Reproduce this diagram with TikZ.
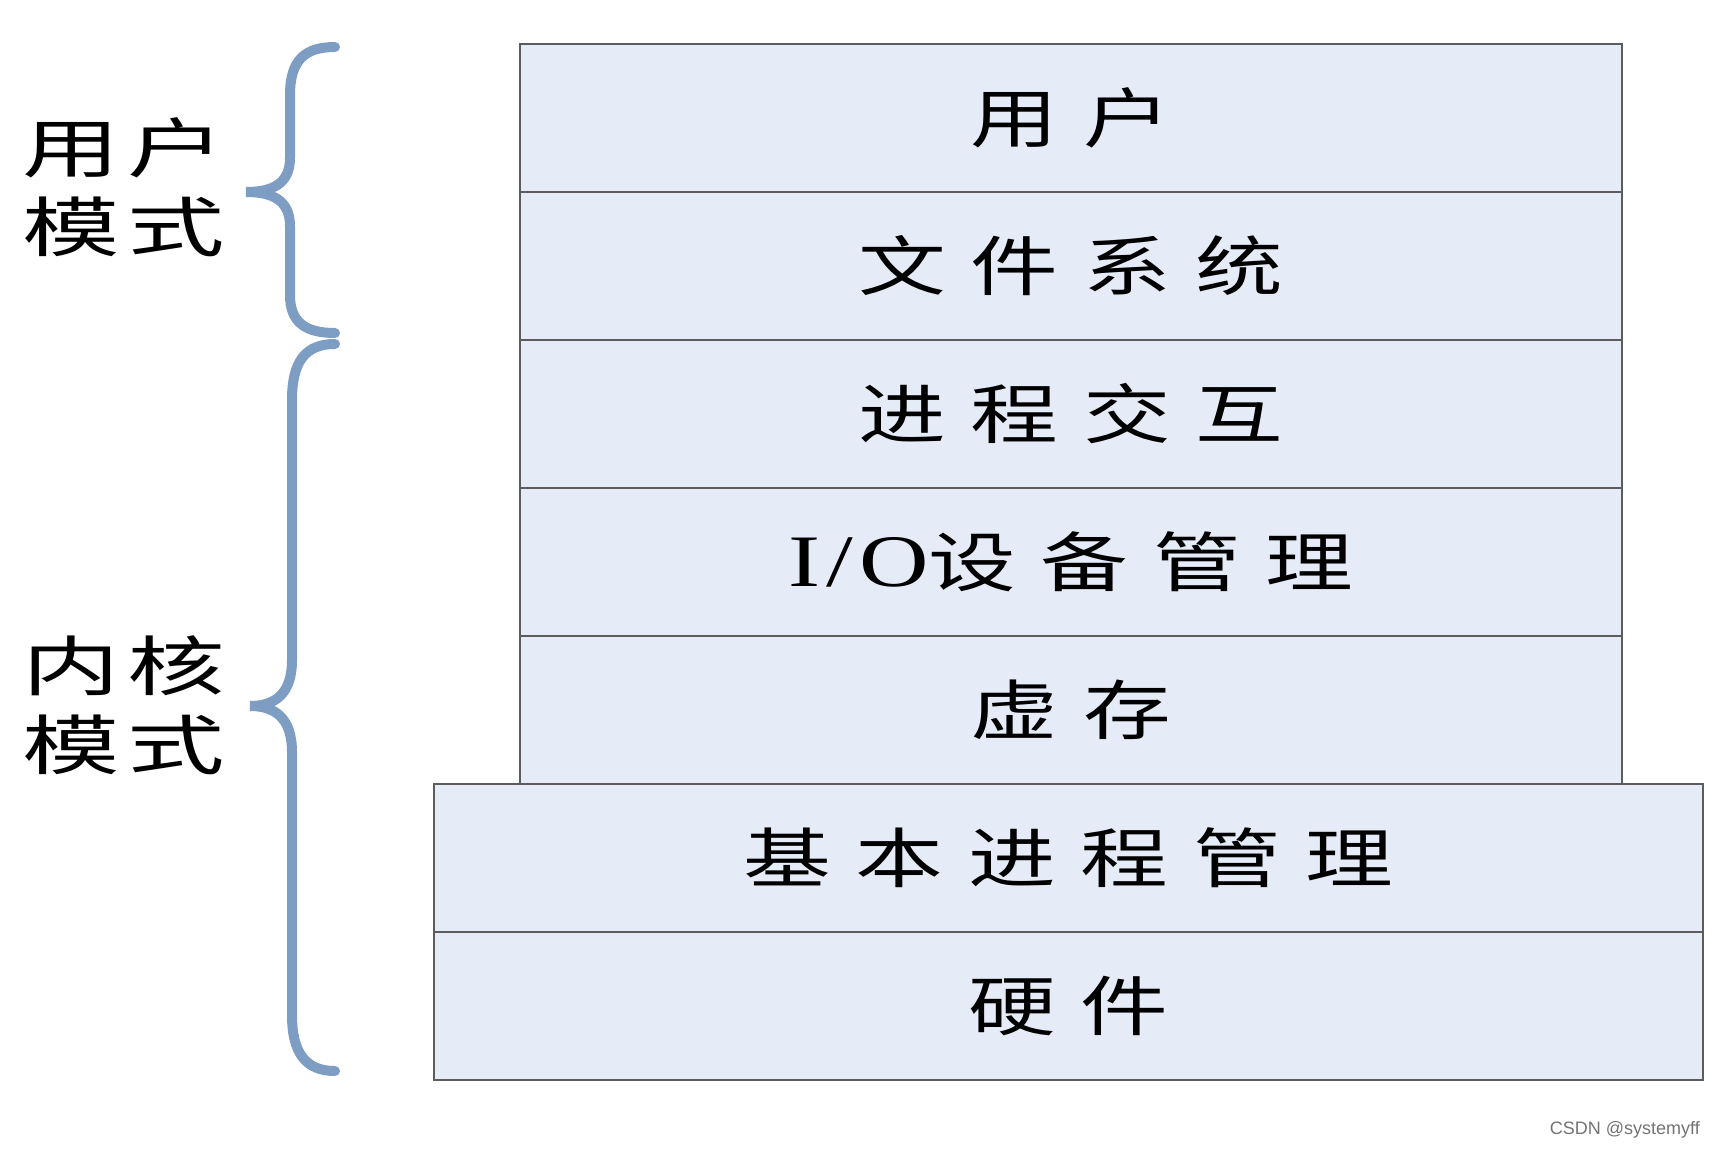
\documentclass[tikz,border=0pt]{standalone}
\usepackage{fontspec}
\setmainfont{Liberation Serif}
\newfontfamily\cjk[FakeStretch=1.35,LetterSpace=38]{Noto Sans CJK SC}
\newfontfamily\cjkside[FakeStretch=1.5,LetterSpace=12]{Noto Sans CJK SC}
\newfontfamily\latin[FakeStretch=1.3,LetterSpace=8]{Liberation Serif}
\usepackage{tikz}
\usetikzlibrary{positioning}

\definecolor{layerfill}{HTML}{E6ECF7}
\definecolor{layerline}{HTML}{5C5C5C}
\definecolor{bracecol}{HTML}{7E9DC2}

\begin{document}
\begin{tikzpicture}[
    x=1pt,y=-1pt,
    font=\cjk\fontsize{65}{79}\selectfont,
    layer/.style={
        draw=layerline, line width=1.5pt,
        fill=layerfill,
        minimum width=1102pt,
        minimum height=148pt,
        inner sep=0pt, outer sep=0pt,
        align=center
    },
    widelayer/.style={layer, minimum width=1269pt},
    side/.style={font=\cjkside\fontsize{65}{79}\selectfont, align=center, inner sep=0pt},
    brace/.style={draw=bracecol, line width=10pt, line cap=round}
]
\useasboundingbox (0,0) rectangle (1716,1150);

% --- Layer stack ---
\node[layer, anchor=north] (user) at (1071,44) {用户};
\node[layer, below=0pt of user] (fs) {文件系统};
\node[layer, below=0pt of fs] (ipc) {进程交互};
\node[layer, below=0pt of ipc] (io) {{\latin\fontsize{74}{79}\selectfont I/O}设备管理};
\node[layer, below=0pt of io] (vm) {虚存};
\node[widelayer, below=0pt of vm, xshift=-2.5pt] (proc) {基本进程管理};
\node[widelayer, below=0pt of proc] (hw) {硬件};

% --- Mode labels ---
\node[side] (umode) at (124,187) {用户\\模式};
\node[side] (kmode) at (124,705) {内核\\模式};

% --- Braces ---
\coordinate (ubtop) at (335,47);
\coordinate (ubtip) at (246,192);
\coordinate (ubbot) at (335,333);
\draw[brace] (ubtop) .. controls (305,47) and (290,60) .. (290,95) -- (290,158)
    .. controls (290,184) and (272,192) .. (ubtip)
    .. controls (272,192) and (290,200) .. (290,226) -- (290,295)
    .. controls (290,322) and (305,333) .. (ubbot);

\coordinate (kbtop) at (335,344);
\coordinate (kbtip) at (250,706);
\coordinate (kbbot) at (335,1071);
\draw[brace] (kbtop) .. controls (305,344) and (292,362) .. (292,400) -- (292,660)
    .. controls (292,694) and (275,706) .. (kbtip)
    .. controls (275,706) and (292,718) .. (292,752) -- (292,1015)
    .. controls (292,1052) and (305,1071) .. (kbbot);

% --- Watermark ---
\node[font=\fontspec{Liberation Sans}\fontsize{18}{20}\selectfont, text=black!55, anchor=east, inner sep=0pt] (mark) at (1700,1130) {CSDN @systemyff};

\end{tikzpicture}
\end{document}
